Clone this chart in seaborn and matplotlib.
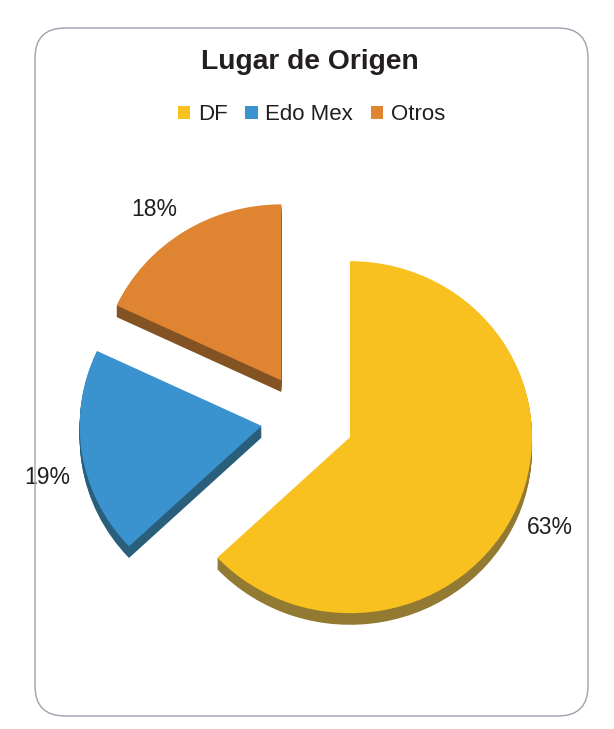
import matplotlib
matplotlib.use("Agg")
import matplotlib.pyplot as plt
from matplotlib.patches import FancyBboxPatch, Patch
import seaborn as sns

# Data
lugares = ["DF", "Edo Mex", "Otros"]
porcentajes = [63, 19, 18]
explode = [0.26, 0.25, 0.26]
colores = ["#F8C120", "#3A93CF", "#DF8430"]
colores_borde = ["#937A33", "#2A5F7C", "#835324"]
# where the percent labels sit, in pixels
pos_etiquetas = [(550, 528), (47, 478), (154, 210)]

sns.set_theme(style="white")
plt.rcParams["font.family"] = ["Liberation Sans", "DejaVu Sans"]

W, H = 614, 729
fig = plt.figure(figsize=(W / 100, H / 100), dpi=100)
ax = fig.add_axes([0, 0, 1, 1])

# the pie is a bit squashed: pixels per unit in x and y, and its centre in pixels
Rx, Ry = 182, 176
cx, cy = 306.6, 419

# thickness: the darker pie stacked many times below the top one
for i in range(12, 0, -1):
    ax.pie(porcentajes, explode=explode, colors=colores_borde, startangle=90,
           counterclock=False, radius=1, center=(0, -i * 0.0055),
           wedgeprops={"linewidth": 0})

wedges, _, pct = ax.pie(porcentajes, explode=explode, colors=colores, startangle=90,
                        counterclock=False, radius=1, autopct="%d%%", pctdistance=1.21,
                        wedgeprops={"linewidth": 0})
for t, (px, py) in zip(pct, pos_etiquetas):
    t.set_position(((px - cx) / Rx, (cy - py) / Ry))
    t.set_fontsize(16.5)
    t.set_color("#231F20")

ax.set_xlim(-cx / Rx, (W - cx) / Rx)
ax.set_ylim((cy - H) / Ry, cy / Ry)
ax.set_aspect(Ry / Rx)
ax.axis("off")

# rounded chart frame
marco = FancyBboxPatch((35, H - 716), 553, 688, boxstyle="round,pad=0,rounding_size=30",
                       transform=None, facecolor="none", edgecolor="#9AA3AB", linewidth=1.0)
fig.add_artist(marco)

fig.text(309.5 / W, 1 - 62 / H, "Lugar de Origen", ha="center", va="center", fontsize=20.3,
         fontweight="bold", color="#231F20")

handles = [Patch(facecolor=c, edgecolor="none") for c in colores]
fig.legend(handles, lugares, loc="center", bbox_to_anchor=(311.5 / W, 1 - 115 / H), ncol=3,
           frameon=False, fontsize=16, handlelength=0.56, handleheight=0.56,
           handletextpad=0.35, columnspacing=0.8, labelcolor="#231F20")

plt.savefig("out.png", dpi=100)
